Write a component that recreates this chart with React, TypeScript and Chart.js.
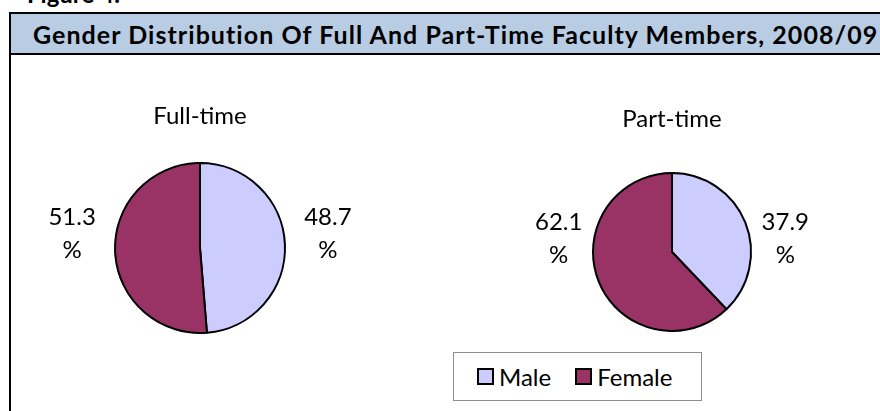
import React, { useEffect, useRef } from "react";
import { Chart, registerables } from "chart.js";

Chart.register(...registerables);

const figureLabel = "Figure 4:";
const mainTitle = "Gender Distribution Of Full And Part-Time Faculty Members, 2008/09";
const categories = ["Male", "Female"];
const fullTimeValues = [48.7, 51.3];
const partTimeValues = [37.9, 62.1];
const pieTitles = ["Full-time", "Part-time"];
const sliceColors = ["#CCCCFF", "#993366"];

const FONT = "Lato, 'Open Sans', sans-serif";

const pieLabelPlugin = {
  id: "pieLabels",
  afterDatasetsDraw(chart: any, _args: any, opts: any) {
    const ctx = chart.ctx;
    const meta = chart.getDatasetMeta(0);
    const data = chart.data.datasets[0].data;
    ctx.save();
    ctx.fillStyle = "#000";
    ctx.font = `24px ${FONT}`;
    ctx.textAlign = "center";
    ctx.textBaseline = "middle";
    meta.data.forEach((arc: any, i: number) => {
      const p = arc.getProps(["x", "y", "startAngle", "endAngle", "outerRadius"], true);
      const mid = (p.startAngle + p.endAngle) / 2;
      const d = p.outerRadius + 43;
      const x = p.x + Math.cos(mid) * d;
      const y = p.y - p.outerRadius * 0.17;
      ctx.fillText(Number(data[i]).toFixed(1), x, y - 16);
      ctx.fillText("%", x, y + 17);
    });
    if (opts && opts.title) {
      const cx = (chart.chartArea.left + chart.chartArea.right) / 2;
      ctx.textBaseline = "alphabetic";
      ctx.fillText(opts.title, cx, opts.titleBaseline);
    }
    ctx.restore();
  },
};

type PieProps = {
  values: number[];
  title: string;
  left: number;
  top: number;
  width: number;
  height: number;
  padding: { left: number; right: number; top: number; bottom: number };
  titleBaseline: number;
};

function PieChart({ values, title, left, top, width, height, padding, titleBaseline }: PieProps) {
  const ref = useRef<HTMLCanvasElement | null>(null);
  useEffect(() => {
    if (!ref.current) return;
    const chart = new Chart(ref.current, {
      type: "pie",
      data: {
        labels: categories,
        datasets: [
          {
            data: values,
            backgroundColor: sliceColors,
            borderColor: "#000000",
            borderWidth: 2,
          },
        ],
      },
      options: {
        responsive: false,
        animation: false,
        layout: { padding },
        plugins: {
          legend: { display: false },
          tooltip: { enabled: false },
          title: { display: false },
          pieLabels: { title, titleBaseline },
        } as any,
      },
      plugins: [pieLabelPlugin],
    });
    return () => chart.destroy();
  }, []);
  return (
    <canvas
      ref={ref}
      width={width}
      height={height}
      style={{ position: "absolute", left, top, width, height, display: "block" }}
    />
  );
}

export default function App() {
  return (
    <div
      style={{
        position: "absolute",
        left: 0,
        top: 0,
        width: 880,
        height: 411,
        overflow: "hidden",
        background: "#fff",
        fontFamily: FONT,
      }}
    >
      <div
        style={{
          position: "absolute",
          left: 27,
          top: -18,
          fontSize: 24,
          lineHeight: "24px",
          fontWeight: 700,
          whiteSpace: "nowrap",
        }}
      >
        {figureLabel}
      </div>
      <div
        style={{
          position: "absolute",
          left: 9,
          top: 12,
          width: 920,
          height: 430,
          border: "2px solid #000",
          boxSizing: "border-box",
        }}
      />
      <div
        style={{
          position: "absolute",
          left: 11,
          top: 14,
          width: 900,
          height: 39,
          background: "#B8CCE4",
          borderBottom: "2px solid #000",
        }}
      />
      <div
        style={{
          position: "absolute",
          left: 33,
          top: 14,
          height: 39,
          display: "flex",
          alignItems: "center",
          fontSize: 25,
          letterSpacing: "1.05px",
          fontWeight: 700,
          whiteSpace: "nowrap",
        }}
      >
        {mainTitle}
      </div>
      <PieChart
        values={fullTimeValues}
        title={pieTitles[0]}
        left={0}
        top={60}
        width={440}
        height={300}
        padding={{ left: 114, right: 154, top: 102, bottom: 26 }}
        titleBaseline={64}
      />
      <PieChart
        values={partTimeValues}
        title={pieTitles[1]}
        left={440}
        top={60}
        width={440}
        height={300}
        padding={{ left: 151, right: 127, top: 112, bottom: 28 }}
        titleBaseline={67}
      />
      <div
        style={{
          position: "absolute",
          left: 453,
          top: 352,
          width: 249,
          height: 49,
          boxSizing: "border-box",
          border: "1px solid #8c8c8c",
          background: "#fff",
          display: "flex",
          alignItems: "center",
          paddingLeft: 23,
          fontSize: 24,
        }}
      >
        {categories.map((c, i) => (
          <div key={c} style={{ display: "flex", alignItems: "center", marginRight: i === 0 ? 24 : 0 }}>
            <span
              style={{
                display: "inline-block",
                width: 17,
                height: 17,
                boxSizing: "border-box",
                border: "2px solid #000",
                background: sliceColors[i],
                marginRight: 5,
              }}
            />
            <span style={{ lineHeight: "24px" }}>{c}</span>
          </div>
        ))}
      </div>
    </div>
  );
}
